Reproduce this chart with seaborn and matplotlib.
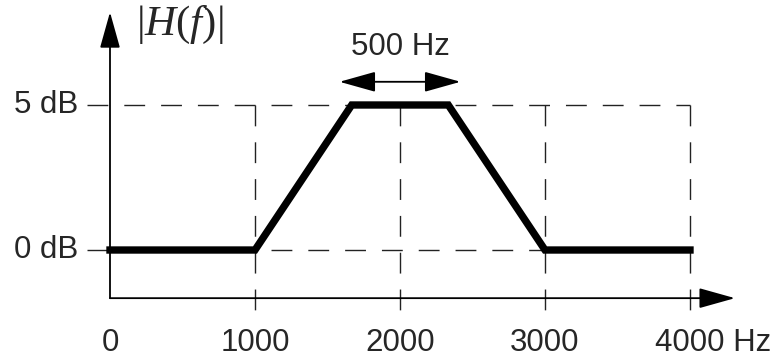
import matplotlib
matplotlib.use("Agg")
import matplotlib.pyplot as plt
import seaborn as sns

# response shape (trapezoid)
freq_hz = [0, 1000, 1667, 2333, 3000, 4000]
gain_db = [0, 0, 5, 5, 0, 0]

x_ticks = [0, 1000, 2000, 3000, 4000]
x_tick_labels = ["0", "1000", "2000", "3000", "4000 Hz"]
y_ticks = [0, 5]
y_tick_labels = ["0 dB", "5 dB"]

band_edges = [1583, 2417]
band_label = "500 Hz"
y_label = r"$|H(f)|$"

sns.set_theme(style="white")
plt.rcParams["font.family"] = ["Liberation Sans", "DejaVu Sans"]
plt.rcParams["mathtext.fontset"] = "custom"
plt.rcParams["mathtext.rm"] = "Liberation Serif"
plt.rcParams["mathtext.it"] = "Liberation Serif:italic"

fig = plt.figure(figsize=(7.77, 3.64), dpi=100)
ax = fig.add_axes([0, 0, 1, 1])
ax.set_xlim(-758.6, 4600)
ax.set_ylim(-3.93, 8.62)
ax.set_axis_off()

grid_kw = dict(color="#222222", lw=1.0, linestyle=(0, (15, 11.5)))
for yv in y_ticks:
    ax.plot([-160, x_ticks[-1]], [yv, yv], **grid_kw)
for xv in x_ticks[1:]:
    ax.plot([xv, xv], [y_ticks[-1], -2.5], **grid_kw)

arrow_kw = dict(arrowstyle="-|>,head_length=1.5,head_width=0.42", mutation_scale=15,
                color="black", lw=1.3, shrinkA=0, shrinkB=0)
ax.annotate("", xy=(0, 8.2), xytext=(0, -1.66), arrowprops=arrow_kw)
ax.annotate("", xy=(4310, -1.66), xytext=(0, -1.66), arrowprops=arrow_kw)

sns.lineplot(x=freq_hz, y=gain_db, ax=ax, color="black", lw=5.3,
             estimator=None, solid_capstyle="projecting", solid_joinstyle="miter")

band_kw = dict(arrow_kw, arrowstyle="<|-|>,head_length=1.5,head_width=0.42")
ax.annotate("", xy=(band_edges[1], 5.8), xytext=(band_edges[0], 5.8), arrowprops=band_kw)
ax.text(sum(band_edges) / 2, 7.0, band_label, ha="center", va="center", fontsize=22.5)

for xv, lab in zip(x_ticks, x_tick_labels):
    if lab.endswith("Hz"):
        ax.text(3759, -3.2, lab, ha="left", va="center", fontsize=22.5)
    else:
        ax.text(xv, -3.2, lab, ha="center", va="center", fontsize=22.5)
for yv, lab in zip(y_ticks, y_tick_labels):
    ax.text(-221, yv, lab, ha="right", va="center", fontsize=22.5)

ax.text(180, 7.75, y_label, ha="left", va="center", fontsize=31)

fig.savefig("out.png", dpi=100)
